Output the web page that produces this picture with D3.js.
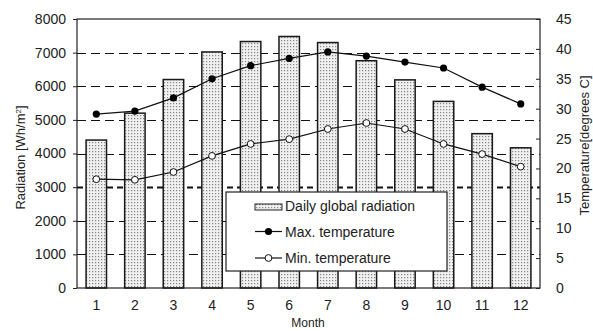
<!DOCTYPE html>
<html>
<head>
<meta charset="utf-8">
<script src="https://cdn.jsdelivr.net/npm/d3@7"></script>
<style>
  body { margin: 0; background: #fff; }
  svg { font-family: "Liberation Sans", Arial, sans-serif; }
</style>
</head>
<body>
<div id="chart"></div>
<script>
// values
var months = ["1", "2", "3", "4", "5", "6", "7", "8", "9", "10", "11", "12"];
var radiation = [4400, 5200, 6200, 7020, 7330, 7480, 7300, 6760, 6190, 5550, 4590, 4170];
var maxTemp = [29.1, 29.6, 31.8, 35.0, 37.2, 38.4, 39.5, 38.8, 37.8, 36.8, 33.6, 30.8];
var minTemp = [18.2, 18.1, 19.4, 22.1, 24.1, 24.9, 26.6, 27.6, 26.6, 24.1, 22.4, 20.3];
var radTicks = [0, 1000, 2000, 3000, 4000, 5000, 6000, 7000, 8000];
var tempTicks = [0, 5, 10, 15, 20, 25, 30, 35, 40, 45];

var W = 593, H = 331;
var margin = {left: 77, right: 53, top: 19, bottom: 43};
var width = W - margin.left - margin.right,
    height = H - margin.top - margin.bottom;

var svg = d3.select("#chart").append("svg")
    .attr("width", W).attr("height", H);

// stipple pattern for the bars
var defs = svg.append("defs");
var pat = defs.append("pattern")
    .attr("id", "dots")
    .attr("patternUnits", "userSpaceOnUse")
    .attr("width", 3).attr("height", 3);
pat.append("rect").attr("width", 3).attr("height", 3).attr("fill", "#f0f0f0");
pat.append("rect").attr("x", 0).attr("y", 0).attr("width", 1.2).attr("height", 1.2).attr("fill", "#858585");

var g = svg.append("g").attr("transform", "translate(" + margin.left + "," + margin.top + ")");

var x = d3.scaleBand().domain(months).range([0, width]).paddingInner(0.47).paddingOuter(0.235);
var yL = d3.scaleLinear().domain([0, 8000]).range([height, 0]);
var yR = d3.scaleLinear().domain([0, 45]).range([height, 0]);

// gridlines
g.selectAll(".grid")
    .data(radTicks.filter(function (d) { return d > 0 && d < 8000; }))
    .enter().append("line")
    .attr("x1", 0).attr("x2", width)
    .attr("y1", function (d) { return Math.round(yL(d)) + 0.5; })
    .attr("y2", function (d) { return Math.round(yL(d)) + 0.5; })
    .attr("stroke", "#111")
    .attr("stroke-width", function (d) { return d == 3000 ? 2 : 1; })
    .attr("stroke-dasharray", function (d) { return d == 3000 ? "6,4" : "9,5"; });

// bars
g.selectAll(".bar")
    .data(radiation)
    .enter().append("rect")
    .attr("x", function (d, i) { return x(months[i]); })
    .attr("y", function (d) { return yL(d); })
    .attr("width", x.bandwidth())
    .attr("height", function (d) { return height - yL(d); })
    .attr("fill", "url(#dots)")
    .attr("stroke", "#1a1a1a")
    .attr("stroke-width", 1.5);

var line = function (vals) {
    return d3.line()
        .x(function (d, i) { return x(months[i]) + x.bandwidth() / 2; })
        .y(function (d) { return yR(d); })(vals);
};

g.append("path").attr("d", line(maxTemp)).attr("fill", "none").attr("stroke", "#111").attr("stroke-width", 1.2);
g.append("path").attr("d", line(minTemp)).attr("fill", "none").attr("stroke", "#111").attr("stroke-width", 1.2);

g.selectAll(".maxpt").data(maxTemp).enter().append("circle")
    .attr("cx", function (d, i) { return x(months[i]) + x.bandwidth() / 2; })
    .attr("cy", function (d) { return yR(d); })
    .attr("r", 3.6).attr("fill", "#000");

g.selectAll(".minpt").data(minTemp).enter().append("circle")
    .attr("cx", function (d, i) { return x(months[i]) + x.bandwidth() / 2; })
    .attr("cy", function (d) { return yR(d); })
    .attr("r", 3.4).attr("fill", "#fff").attr("stroke", "#111").attr("stroke-width", 1);

// frame
g.append("rect").attr("x", 0).attr("y", 0).attr("width", width).attr("height", height)
    .attr("fill", "none").attr("stroke", "#222").attr("stroke-width", 1.2);

// axes
var axL = g.append("g").call(d3.axisLeft(yL).tickValues(radTicks).tickFormat(d3.format("d")).tickSize(4).tickPadding(7));
var axR = g.append("g").attr("transform", "translate(" + width + ",0)")
    .call(d3.axisRight(yR).tickValues(tempTicks).tickSize(-4).tickPadding(16));
var axB = g.append("g").attr("transform", "translate(0," + height + ")")
    .call(d3.axisBottom(x).tickSize(0).tickPadding(12));

[axL, axR, axB].forEach(function (a) {
    a.select(".domain").remove();
    a.selectAll("text").attr("font-size", 14).attr("fill", "#222")
        .attr("font-family", "'Liberation Sans', Arial, sans-serif");
    a.selectAll("line").attr("stroke", "#222");
});

// axis titles
svg.append("text")
    .attr("transform", "translate(25," + (margin.top + height / 2 + 4) + ") rotate(-90)")
    .attr("text-anchor", "middle").attr("font-size", 13).attr("fill", "#222")
    .html("Radiation [Wh/m<tspan baseline-shift='super' font-size='8'>2</tspan>]");

svg.append("text")
    .attr("transform", "translate(589," + (margin.top + height / 2 - 8) + ") rotate(-90)")
    .attr("text-anchor", "middle").attr("font-size", 13).attr("fill", "#222")
    .text("Temperature[degrees C]");

svg.append("text")
    .attr("x", 308).attr("y", 327)
    .attr("text-anchor", "middle").attr("font-size", 12).attr("fill", "#222")
    .text("Month");

// legend
var leg = svg.append("g").attr("transform", "translate(226,192)");
leg.append("rect").attr("width", 221).attr("height", 79)
    .attr("fill", "#fff").attr("stroke", "#222").attr("stroke-width", 1.2);

leg.append("rect").attr("x", 29).attr("y", 12).attr("width", 27).attr("height", 6)
    .attr("fill", "url(#dots)").attr("stroke", "#222").attr("stroke-width", 1);
leg.append("text").attr("x", 59).attr("y", 19).attr("font-size", 14).attr("fill", "#222")
    .text("Daily global radiation");

leg.append("line").attr("x1", 29).attr("x2", 56).attr("y1", 39.5).attr("y2", 39.5).attr("stroke", "#111").attr("stroke-width", 1.2);
leg.append("circle").attr("cx", 42.5).attr("cy", 39.5).attr("r", 3.6).attr("fill", "#000");
leg.append("text").attr("x", 59).attr("y", 44.5).attr("font-size", 14).attr("fill", "#222")
    .text("Max. temperature");

leg.append("line").attr("x1", 29).attr("x2", 56).attr("y1", 66).attr("y2", 66).attr("stroke", "#111").attr("stroke-width", 1.2);
leg.append("circle").attr("cx", 42.5).attr("cy", 66).attr("r", 3.4).attr("fill", "#fff").attr("stroke", "#111");
leg.append("text").attr("x", 59).attr("y", 71).attr("font-size", 14).attr("fill", "#222")
    .text("Min. temperature");
</script>
</body>
</html>
